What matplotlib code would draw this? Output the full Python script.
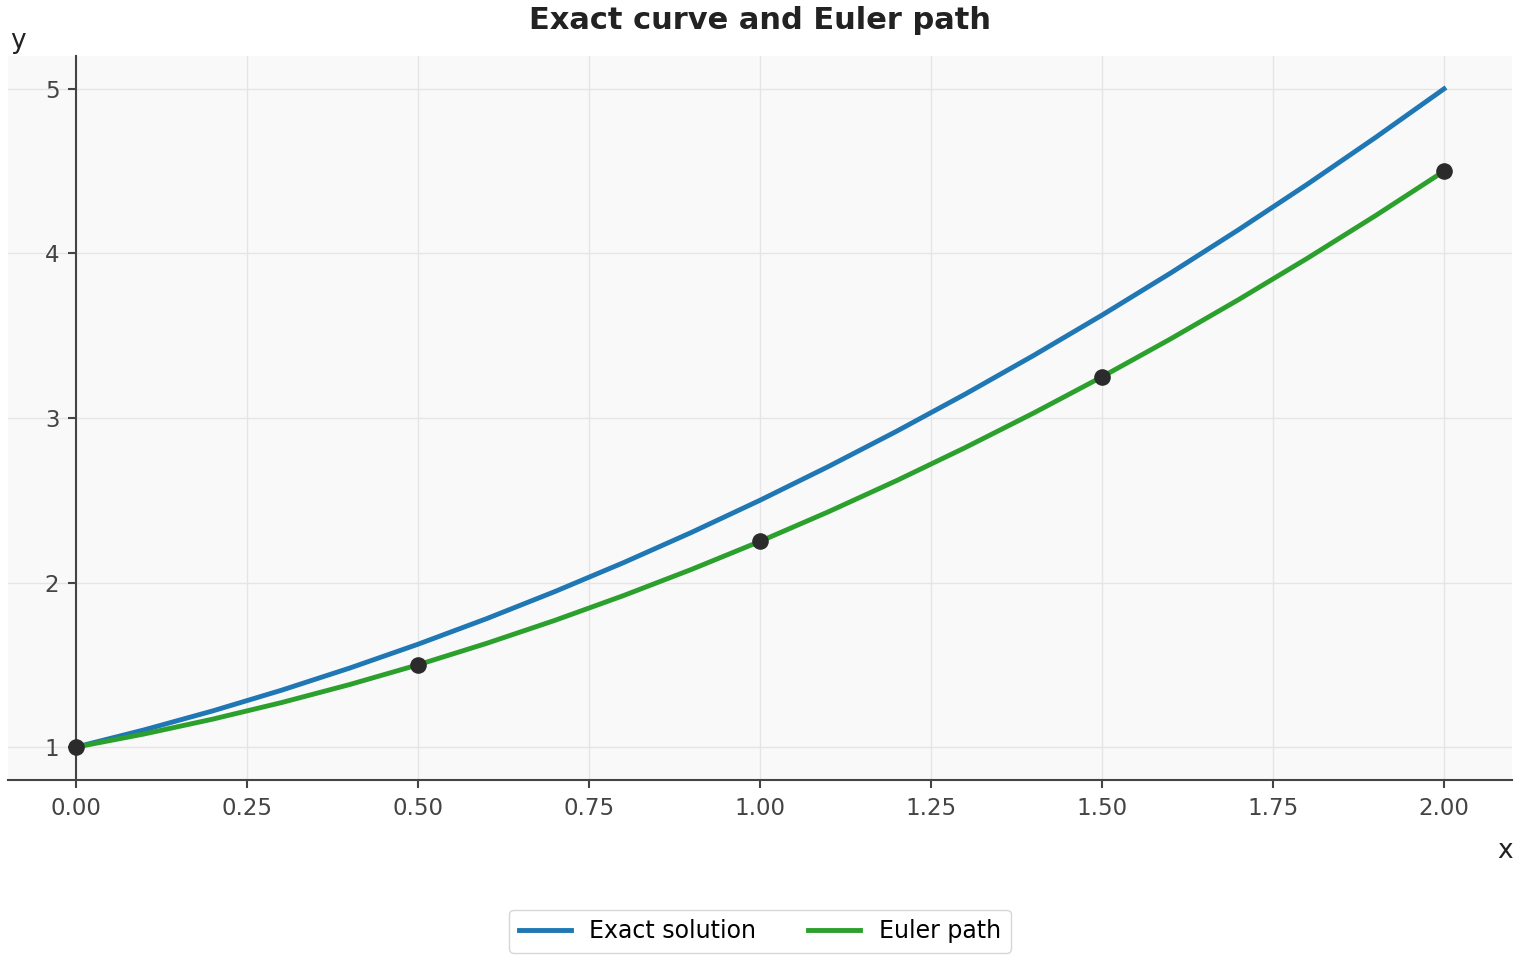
import matplotlib
matplotlib.use("Agg")
import matplotlib.pyplot as plt

# Curve samples
x_curve = [0.0, 0.1, 0.2, 0.3, 0.4, 0.5, 0.6, 0.7, 0.8, 0.9, 1.0,
           1.1, 1.2, 1.3, 1.4, 1.5, 1.6, 1.7, 1.8, 1.9, 2.0]
exact_y = [1.0, 1.105, 1.22, 1.345, 1.48, 1.625, 1.78, 1.945, 2.12, 2.305, 2.5,
           2.705, 2.92, 3.145, 3.38, 3.625, 3.88, 4.145, 4.42, 4.705, 5.0]
euler_curve_y = [1.0, 1.08, 1.17, 1.27, 1.38, 1.5, 1.63, 1.77, 1.92, 2.08, 2.25,
                 2.43, 2.62, 2.82, 3.03, 3.25, 3.48, 3.72, 3.97, 4.23, 4.5]

# Euler step points
euler_x = [0.0, 0.5, 1.0, 1.5, 2.0]
euler_y = [1.0, 1.5, 2.25, 3.25, 4.5]

x_ticks = [0.0, 0.25, 0.5, 0.75, 1.0, 1.25, 1.5, 1.75, 2.0]
y_ticks = [1, 2, 3, 4, 5]

plt.rcParams['font.family'] = ['DejaVu Sans']

fig = plt.figure(figsize=(15.2, 9.6), dpi=100)
ax = fig.add_axes([0.005, 0.1875, 0.99, 0.7542])
ax.set_facecolor('#f9f9fa')

ax.plot(x_curve, exact_y, color='#1f77b4', lw=3.5, label='Exact solution', zorder=3)
ax.plot(x_curve, euler_curve_y, color='#2ca02c', lw=3.5, label='Euler path', zorder=3)
ax.scatter(euler_x, euler_y, s=120, color='#2b2b2b', zorder=4)

ax.set_xlim(-0.1, 2.1)
ax.set_ylim(0.8, 5.2)
ax.set_xticks(x_ticks)
ax.set_xticklabels([f"{t:.2f}" for t in x_ticks])
ax.set_yticks(y_ticks)
ax.grid(True, color='#e5e5e8', lw=1)
ax.set_axisbelow(True)

for s in ['top', 'right']:
    ax.spines[s].set_visible(False)
ax.spines['left'].set_position(('data', 0))
ax.spines['left'].set_color('#444444')
ax.spines['bottom'].set_color('#444444')
ax.spines['left'].set_linewidth(1.5)
ax.spines['bottom'].set_linewidth(1.5)
ax.tick_params(axis='both', labelsize=16.5, colors='#444444', length=6, width=1.5, pad=6)

fig.text(0.5, 0.979, 'Exact curve and Euler path', ha='center', va='center',
         fontsize=22, fontweight='bold', color='#222222')
fig.text(0.012, 0.957, 'y', ha='center', va='center', fontsize=19, color='#222222')
fig.text(0.990, 0.114, 'x', ha='center', va='center', fontsize=19, color='#222222')

fig.legend(loc='center', bbox_to_anchor=(0.5, 0.03), ncol=2, fontsize=17,
           frameon=True, edgecolor='#cccccc', handlelength=2.2, columnspacing=2.2,
           borderpad=0.4)

fig.savefig('out.png', dpi=100)
